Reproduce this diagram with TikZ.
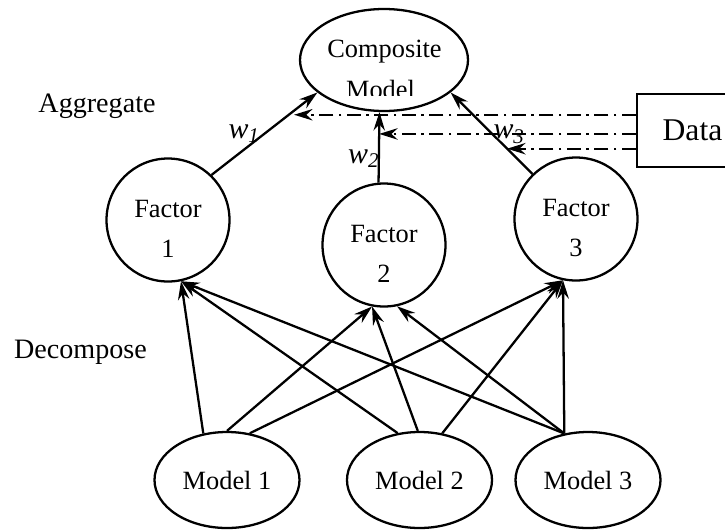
\documentclass[tikz,border=0pt]{standalone}
\usepackage{fontspec}
\setmainfont{Liberation Serif}
\usetikzlibrary{shapes.geometric,arrows.meta}
\tikzset{>={Stealth[length=10.5pt,width=6.5pt,inset=3.5pt]}}
\tikzset{
  factor/.style={circle,draw,minimum size=2.46cm,inner sep=0pt,align=center,
    font=\fontsize{15}{23}\selectfont,text height=1.5cm,text depth=0pt},
  model/.style={ellipse,draw,minimum width=2.9cm,minimum height=1.92cm,inner sep=0pt,
    font=\fontsize{15}{18}\selectfont},
  txt/.style={inner sep=0pt,font=\fontsize{15}{18}\selectfont},
  side/.style={inner sep=0pt,anchor=base,font=\fontsize{16}{19}\selectfont},
  wlabel/.style={inner sep=0pt,font=\fontsize{17}{17}\selectfont\itshape},
  datalink/.style={->,dash pattern=on 0.28cm off 0.11cm on 0.05cm off 0.11cm}
}

\begin{document}
\begin{tikzpicture}[line width=1.3pt]
\useasboundingbox (0,0) rectangle (14.5,10.58);
\clip (0,0) rectangle (14.5,10.58);

% top level
\node[ellipse,draw,minimum width=3.36cm,minimum height=2.04cm,inner sep=0pt] (comp) at (7.68,9.38) {};
\node[txt,anchor=base] (compA) at (7.69,9.44) {Composite};
\begin{scope}
\clip (6,8.68) rectangle (9.4,10);
\node[txt,anchor=base] (compB) at (7.61,8.62) {Model};
\end{scope}
\node[draw,minimum width=2.22cm,minimum height=1.46cm,inner sep=0pt,
  font=\fontsize{18}{20}\selectfont] (data) at (13.85,7.97) {Data};

% factors and models
\node[factor] (f1) at (3.36,6.18) {Factor\\1};
\node[factor] (f2) at (7.68,5.68) {Factor\\2};
\node[factor] (f3) at (11.52,6.20) {Factor\\3};
\node[model] (m1) at (4.54,0.98) {Model 1};
\node[model] (m2) at (8.39,0.98) {Model 2};
\node[model] (m3) at (11.76,0.98) {Model 3};

\node[side] (agg) at (1.94,8.34) {Aggregate};
\node[side] (dec) at (1.61,3.42) {Decompose};

% weights
\draw[->] (f1.46) -- node[wlabel,pos=0.5,left=2pt] (w1) {w\textsubscript{1}}
  coordinate[pos=0.73] (c1) (comp.-154);
\draw[->] (f2.95) -- node[wlabel,pos=0.34,left,xshift=1pt] (w2) {w\textsubscript{2}}
  coordinate[pos=0.69] (c2) (comp.-95);
\draw[->] (f3.134) -- node[wlabel,pos=0.49,right] (w3) {w\textsubscript{3}}
  coordinate[pos=0.31] (c3) (comp.-26);

\draw[datalink,shorten >=3pt] (data.west |- c1) -- (c1);
\draw[datalink] (data.west |- c2) -- (c2);
\draw[datalink] (data.west |- c3) -- (c3);

% models to factors
\foreach \m/\a in {m1/117,m2/115,m3/117}
  \draw[->] (\m.\a) -- (f1.-78);
\foreach \m/\a/\b in {m1/90/-101,m2/92/-101,m3/117/-78}
  \draw[->] (\m.\a) -- (f2.\b);
\foreach \m/\a in {m1/64,m2/64,m3/117}
  \draw[->] (\m.\a) -- (f3.-102);
\end{tikzpicture}
\end{document}
